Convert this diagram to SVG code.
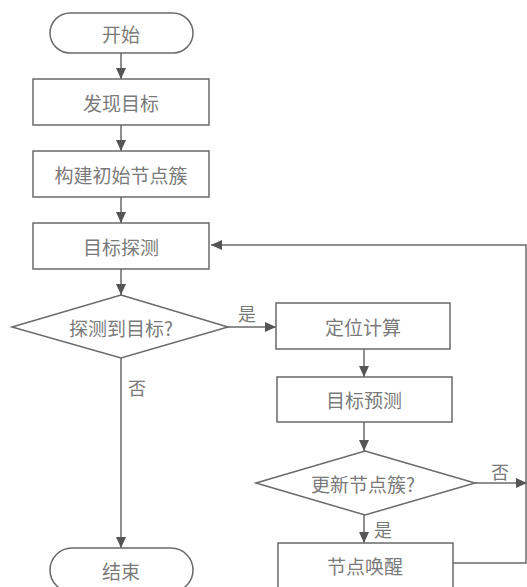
<svg xmlns="http://www.w3.org/2000/svg" width="527" height="587" viewBox="0 0 527 587">
<style>
.s{fill:#fff;stroke:#6a6a6a;stroke-width:1.5}
.t{font-family:"Noto Sans CJK SC","Noto Sans",sans-serif;font-size:19px;fill:#7a7a7a;text-anchor:middle;dominant-baseline:central}
.l{fill:#7a7a7a;font-family:"Noto Sans CJK SC","Noto Sans",sans-serif;font-size:18px;dominant-baseline:central}
.c{fill:none;stroke:#6a6a6a;stroke-width:1.5}
</style>
<defs>
<marker id="a" markerWidth="12" markerHeight="10" refX="11" refY="5" orient="auto" markerUnits="userSpaceOnUse">
<path d="M0,0 L11,5 L0,10 Z" fill="#555"/>
</marker>
</defs>
<g id="connectors">
<line class="c" x1="121" y1="53" x2="121" y2="79" marker-end="url(#a)"/>
<line class="c" x1="121" y1="125" x2="121" y2="151" marker-end="url(#a)"/>
<line class="c" x1="121" y1="197" x2="121" y2="223" marker-end="url(#a)"/>
<line class="c" x1="121" y1="269" x2="121" y2="295" marker-end="url(#a)"/>
<line class="c" x1="228" y1="327" x2="276" y2="327" marker-end="url(#a)"/>
<line class="c" x1="121" y1="358" x2="121" y2="548" marker-end="url(#a)"/>
<line class="c" x1="364" y1="349" x2="364" y2="377" marker-end="url(#a)"/>
<line class="c" x1="364" y1="422" x2="364" y2="451" marker-end="url(#a)"/>
<line class="c" x1="475" y1="483" x2="527" y2="483" marker-end="url(#a)"/>
<line class="c" x1="364" y1="515" x2="364" y2="543" marker-end="url(#a)"/>
<path class="c" d="M453,563 H526 V245 H211" marker-end="url(#a)"/>
<text class="l" x="238" y="313">是</text>
<text class="l" x="128" y="387">否</text>
<text class="l" x="491" y="471">否</text>
<text class="l" x="374" y="529">是</text>
</g>
<g id="start"><rect class="s" x="50" y="13" width="143" height="40" rx="20"/><text class="t" x="121" y="33">开始</text></g>
<g id="find"><rect class="s" x="33" y="79" width="176" height="46"/><text class="t" x="121" y="102">发现目标</text></g>
<g id="build"><rect class="s" x="33" y="151" width="176" height="46"/><text class="t" x="121" y="174">构建初始节点簇</text></g>
<g id="detect"><rect class="s" x="33" y="223" width="176" height="46"/><text class="t" x="121" y="246">目标探测</text></g>
<g id="decide1"><polygon class="s" points="121,295 228,327 121,358 12,327"/><text class="t" x="121" y="327">探测到目标?</text></g>
<g id="locate"><rect class="s" x="276" y="303" width="174" height="46"/><text class="t" x="363" y="326">定位计算</text></g>
<g id="predict"><rect class="s" x="277" y="377" width="175" height="45"/><text class="t" x="364" y="399">目标预测</text></g>
<g id="decide2"><polygon class="s" points="365,451 475,483 365,515 256,483"/><text class="t" x="363" y="483">更新节点簇?</text></g>
<g id="wake"><rect class="s" x="278" y="543" width="175" height="50"/><text class="t" x="365" y="565">节点唤醒</text></g>
<g id="end"><rect class="s" x="50" y="548" width="143" height="44" rx="22"/><text class="t" x="121" y="570">结束</text></g>
</svg>
